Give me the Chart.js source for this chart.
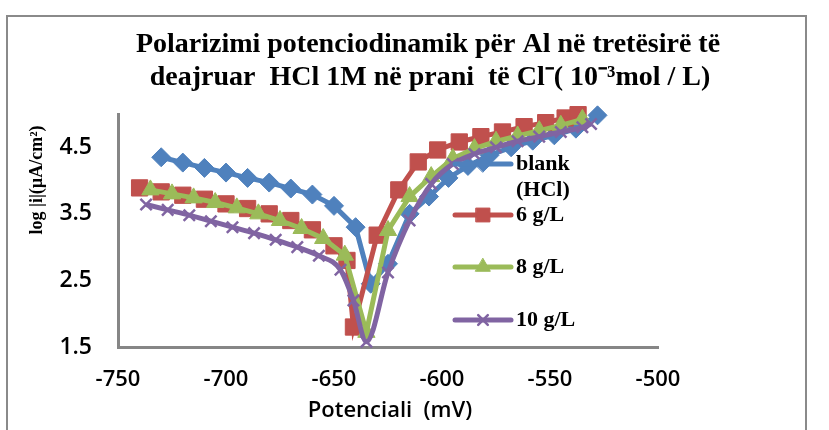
<!DOCTYPE html>
<html>
<head>
<meta charset="utf-8">
<script src="https://cdn.jsdelivr.net/npm/chart.js@4/dist/chart.umd.min.js"></script>
<style>
  html, body { margin: 0; padding: 0; background: #fff; }
  #wrap { width: 829px; height: 430px; }
</style>
</head>
<body>
<div id="wrap"><canvas id="polChart" width="829" height="430"></canvas></div>
<script>
// values
const titleLines = ['Polarizimi potenciodinamik për Al në tretësirë të', 'deajruar  HCl 1M në prani  të Cl⁻( 10⁻³mol / L)'];
const xTitle = 'Potenciali  (mV)';
const yTitle = 'log |i|(µA/cm²)';
const xTicks = [-750, -700, -650, -600, -550, -500];
const yTicks = [1.5, 2.5, 3.5, 4.5];

const seriesNames = ['blank (HCl)', '6 g/L', '8 g/L', '10 g/L'];
const legendLines = [['blank', '(HCl)'], ['6 g/L'], ['8 g/L'], ['10 g/L']];

const blankX = [-730, -720, -710, -700, -690, -680, -670, -660, -650, -640, -633, -625, -615, -606, -597, -588, -578, -568, -558, -548, -538, -528];
const blankY = [4.35, 4.27, 4.19, 4.12, 4.04, 3.97, 3.88, 3.79, 3.62, 3.30, 2.45, 2.75, 3.50, 3.76, 4.04, 4.22, 4.38, 4.50, 4.60, 4.68, 4.78, 4.98];

const g6X = [-740, -730, -720, -710, -700, -690, -680, -670, -660, -650, -644, -641, -630, -620, -611, -602, -592, -582, -572, -562, -552, -543, -537];
const g6Y = [3.89, 3.83, 3.78, 3.72, 3.65, 3.58, 3.50, 3.40, 3.26, 3.02, 2.80, 1.80, 3.18, 3.86, 4.28, 4.46, 4.58, 4.66, 4.73, 4.81, 4.87, 4.94, 4.99];

const g8X = [-735, -725, -715, -705, -695, -685, -675, -665, -655, -645, -635, -625, -615, -605, -595, -585, -575, -565, -555, -545, -535];
const g8Y = [3.86, 3.80, 3.74, 3.67, 3.59, 3.50, 3.40, 3.28, 3.13, 2.88, 1.72, 3.25, 3.76, 4.06, 4.33, 4.48, 4.59, 4.67, 4.75, 4.83, 4.92];

const g10X = [-737, -727, -717, -707, -697, -687, -677, -667, -657, -647, -641, -635, -625, -615, -605, -595, -585, -575, -565, -555, -545, -535, -531];
const g10Y = [3.64, 3.56, 3.48, 3.39, 3.30, 3.21, 3.11, 3.00, 2.87, 2.66, 2.20, 1.58, 2.62, 3.40, 3.95, 4.25, 4.40, 4.50, 4.59, 4.66, 4.73, 4.80, 4.85];

const colors = ['#4F81BD', '#C0504D', '#9BBB59', '#8064A2'];
const styles = [
    { pointStyle: 'rectRot', radius: 9.5, borderWidth: 1 },
    { pointStyle: 'rect', radius: 11.5, borderWidth: 1 },
    { pointStyle: 'triangle', radius: 10, borderWidth: 1 },
    { pointStyle: 'crossRot', radius: 8, borderWidth: 2.5 }
];

function pts(xs, ys) {
    return xs.map((x, i) => ({ x: x, y: ys[i] }));
}

const allData = [pts(blankX, blankY), pts(g6X, g6Y), pts(g8X, g8Y), pts(g10X, g10Y)];

const datasets = allData.map((d, i) => ({
    label: seriesNames[i],
    data: d,
    order: 4 - i,
    borderColor: colors[i],
    backgroundColor: colors[i],
    borderWidth: 5,
    pointStyle: styles[i].pointStyle,
    pointRadius: styles[i].radius,
    pointBorderWidth: styles[i].borderWidth,
    pointBackgroundColor: colors[i],
    pointBorderColor: colors[i],
    tension: i === 3 ? 0.4 : 0,
    cubicInterpolationMode: i === 3 ? 'monotone' : 'default',
    clip: false
}));

const serif = "'Liberation Serif', 'Times New Roman', serif";
const sans = "'Open Sans', 'Noto Sans', sans-serif";

// frame, titles and legend drawn on the canvas
const decorPlugin = {
    id: 'decor',
    afterDraw(chart) {
        const ctx = chart.ctx;
        ctx.save();

        // outer frame (cropped chart border)
        ctx.strokeStyle = '#8a8a8a';
        ctx.lineWidth = 2;
        ctx.beginPath();
        ctx.moveTo(7, 430); ctx.lineTo(7, 16); ctx.lineTo(806, 16); ctx.lineTo(806, 430);
        ctx.stroke();

        // title
        ctx.fillStyle = '#000';
        ctx.textAlign = 'center';
        ctx.textBaseline = 'alphabetic';
        ctx.font = 'bold 28px ' + serif;
        ctx.fillText(titleLines[0], 428, 52);
        ctx.fillText(titleLines[1], 430, 85);

        // x axis title
        ctx.font = '600 22px ' + sans;
        ctx.textBaseline = 'middle';
        ctx.fillText(xTitle, 390, 411);

        // y axis title
        ctx.save();
        ctx.translate(37, 180);
        ctx.rotate(-Math.PI / 2);
        ctx.font = 'bold 18px ' + serif;
        ctx.fillText(yTitle, 0, 0);
        ctx.restore();

        // legend
        const rows = [164, 215, 267, 320];
        ctx.textAlign = 'left';
        ctx.font = 'bold 22px ' + serif;
        legendLines.forEach((lines, i) => {
            const y = rows[i];
            ctx.strokeStyle = colors[i];
            ctx.lineWidth = 5;
            ctx.lineCap = 'round';
            ctx.beginPath();
            ctx.moveTo(455, y); ctx.lineTo(511, y);
            ctx.stroke();
            if (Chart.helpers && Chart.helpers.drawPoint) {
                ctx.fillStyle = colors[i];
                ctx.strokeStyle = colors[i];
                ctx.lineWidth = styles[i].borderWidth;
                Chart.helpers.drawPoint(ctx, { pointStyle: styles[i].pointStyle, radius: styles[i].radius * 0.85, rotation: 0, borderWidth: styles[i].borderWidth }, 483, y);
            }
            ctx.fillStyle = '#000';
            lines.forEach((t, k) => ctx.fillText(t, 516, y + k * 26));
        });

        ctx.restore();
    }
};

new Chart(document.getElementById('polChart'), {
    type: 'line',
    data: { datasets: datasets },
    options: {
        responsive: false,
        animation: false,
        layout: { padding: { left: 0, right: 171, top: 114, bottom: 0 } },
        plugins: {
            legend: { display: false },
            title: { display: false },
            tooltip: { enabled: false }
        },
        scales: {
            x: {
                type: 'linear',
                min: -750,
                max: -500,
                afterBuildTicks: s => { s.ticks = xTicks.map(v => ({ value: v })); },
                afterFit: s => { s.height = 83; },
                grid: { display: false, drawTicks: false },
                border: { color: '#868686', width: 3 },
                ticks: { padding: 20, color: '#000', font: { family: sans, size: 22, weight: '600' } }
            },
            y: {
                type: 'linear',
                min: 1.5,
                max: 5,
                afterBuildTicks: s => { s.ticks = yTicks.map(v => ({ value: v })); },
                afterFit: s => { s.width = 118; },
                grid: { display: false, drawTicks: false },
                border: { color: '#868686', width: 3 },
                ticks: { padding: 26, color: '#000', font: { family: sans, size: 23, weight: '600' } }
            }
        }
    },
    plugins: [decorPlugin]
});
</script>
</body>
</html>
